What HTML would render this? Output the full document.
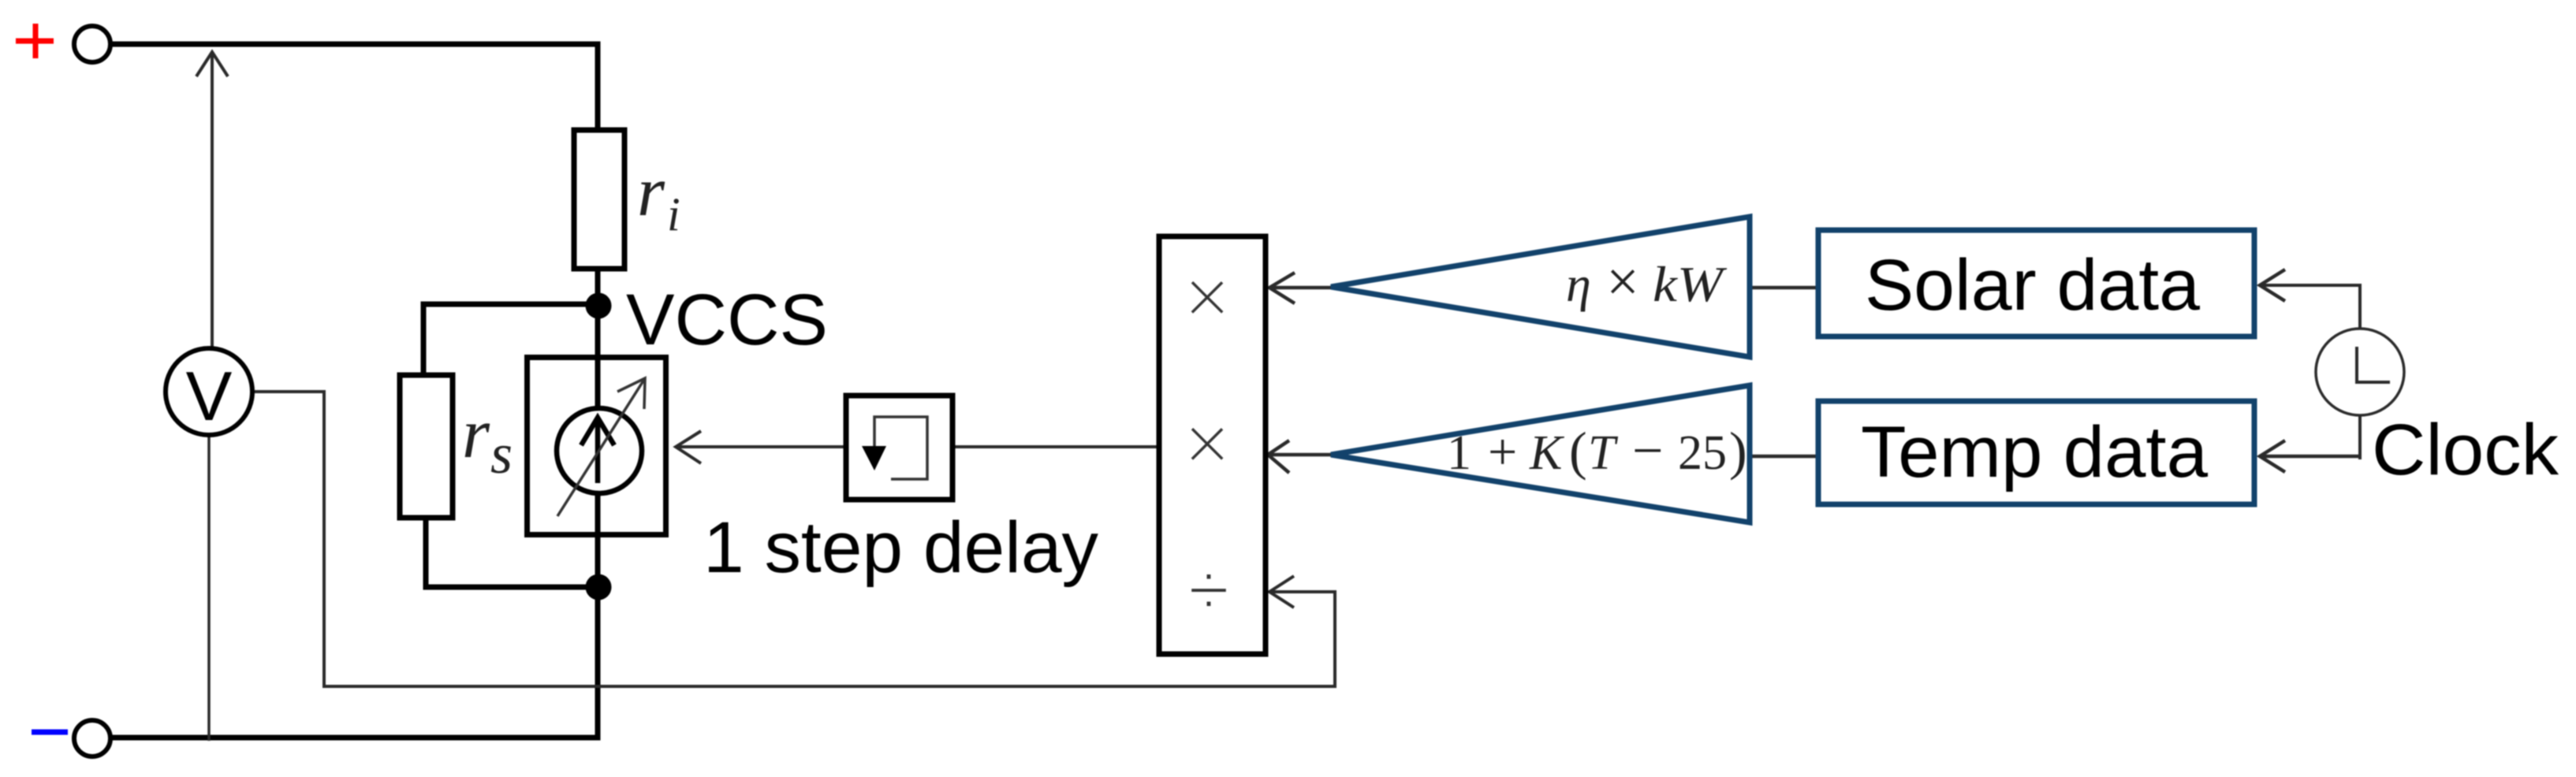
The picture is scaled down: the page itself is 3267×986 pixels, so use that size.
<!DOCTYPE html>
<html><head><meta charset="utf-8"><style>
html,body{margin:0;padding:0;background:#fff;width:3267px;height:986px;overflow:hidden}
svg{display:block;filter:blur(.8px)}
text{font-family:"Liberation Sans",sans-serif;fill:#000}
.m{font-family:"Liberation Serif",serif;font-style:italic;fill:#222}
.u{font-family:"Liberation Serif",serif;font-style:normal}
</style></head><body>
<svg width="3267" height="986" viewBox="0 0 3267 986" xmlns="http://www.w3.org/2000/svg">
<rect width="3267" height="986" fill="#fff"/>
<!-- signs -->
<path d="M20 52H68M45 30V74" stroke="#f00" stroke-width="7" fill="none"/>
<path d="M40 929H86" stroke="#00f" stroke-width="7" fill="none"/>
<!-- main wires -->
<g fill="none" stroke="#000" stroke-width="7">
<path d="M140 56H758V165"/>
<path d="M758 341V516M758 628V936H140"/>
<path d="M758 386H537V476"/>
<path d="M540 657V745H758"/>
<circle cx="117" cy="56" r="23" fill="#fff" stroke-width="6"/>
<circle cx="117" cy="937" r="23" fill="#fff" stroke-width="6"/>
<rect x="728" y="165" width="64" height="176" fill="#fff"/>
<rect x="507" y="476" width="67" height="181" fill="#fff"/>
<rect x="668.5" y="453.5" width="176" height="225"/>
<circle cx="760" cy="572" r="54" stroke-width="6.5"/>
</g>
<circle cx="759" cy="388" r="16.5" fill="#000"/>
<circle cx="759" cy="745" r="16.5" fill="#000"/>
<path d="M758 613V530M737 565L758 530L779 565" fill="none" stroke="#000" stroke-width="6.5"/>
<path d="M707 655L818 480M783 497L818 480L817 519" fill="none" stroke="#333" stroke-width="3.5"/>
<!-- voltmeter and thin connectors -->
<g fill="none" stroke="#2a2a2a" stroke-width="3.5">
<path d="M269 440V66M249 97L269 66L289 97" stroke-width="4"/>
<path d="M265 553V940"/>
<path d="M323 497H411V871H1693V751H1610M1641 731L1610 751L1641 771" stroke-width="4"/>
<path d="M857 567H1073M889 547L857 567L889 588" stroke-width="4"/>
<path d="M1208 567H1468" stroke-width="4"/>
<path d="M1688 365H1610M1642 346L1610 365L1642 385" stroke-width="4.5"/>
<path d="M1688 577H1608M1635 559L1608 577L1635 600" stroke-width="4.5"/>
<path d="M2219 365H2305M2219 579H2305" stroke-width="4.5"/>
<path d="M2866 362H2993V417M2993 527V583" stroke-width="4"/>
<path d="M2866 579H2993M2898 342L2866 362L2898 382M2898 559L2866 579L2898 599" stroke-width="4.5"/>
<ellipse cx="2993" cy="472" rx="56" ry="55" fill="#fff"/>
<path d="M2989 440V485H3031" stroke-width="4"/>
</g>
<circle cx="265" cy="497" r="55" fill="#fff" stroke="#000" stroke-width="6"/>
<text x="265" y="533" font-size="88" text-anchor="middle">V</text>
<!-- delay -->
<rect x="1073" y="502" width="135" height="132" fill="#fff" stroke="#000" stroke-width="7"/>
<path d="M1130 608H1176V529H1109V570" fill="none" stroke="#333" stroke-width="3.5"/>
<path d="M1093 566H1124L1109 597Z" fill="#000"/>
<!-- multiplier -->
<rect x="1470" y="300" width="135" height="530" fill="#fff" stroke="#000" stroke-width="7"/>
<text x="1531" y="412" font-size="104" text-anchor="middle" stroke="#fff" stroke-width="4" style="fill:#333">×</text>
<text x="1531" y="598" font-size="104" text-anchor="middle" stroke="#fff" stroke-width="4" style="fill:#333">×</text>
<text x="1533" y="781" font-size="96" text-anchor="middle" stroke="#fff" stroke-width="3" style="fill:#333">÷</text>
<!-- triangles and data boxes -->
<g fill="#fff" stroke="#12426b" stroke-width="7">
<path d="M1688 364L2219 275V453Z"/>
<path d="M1688 577L2219 489V663Z"/>
<rect x="2306" y="292" width="553" height="135" />
<rect x="2306" y="509" width="553" height="131" />
</g>
<!-- labels -->
<text x="794" y="437" font-size="92" textLength="256" lengthAdjust="spacingAndGlyphs">VCCS</text>
<text x="892" y="726" font-size="92" textLength="501" lengthAdjust="spacingAndGlyphs">1 step delay</text>
<text x="3008" y="602" font-size="92" textLength="237" lengthAdjust="spacingAndGlyphs">Clock</text>
<text x="2365" y="393" font-size="92" textLength="425" lengthAdjust="spacingAndGlyphs">Solar data</text>
<text x="2360" y="605" font-size="92" textLength="440" lengthAdjust="spacingAndGlyphs">Temp data</text>
<text class="m" x="808" y="273" font-size="90">r</text>
<text class="m" x="846" y="292" font-size="60">i</text>
<text class="m" x="586" y="580" font-size="90">r</text>
<text class="m" x="622" y="600" font-size="72">s</text>
<text class="m" x="1986" y="382" font-size="64">η</text>
<text class="u" x="2058" y="382" font-size="74" text-anchor="middle" style="fill:#222">×</text>
<text class="m" x="2096" y="382" font-size="64" textLength="89" lengthAdjust="spacingAndGlyphs">kW</text>
<text class="m" y="595" font-size="62"><tspan class="u" x="1835">1</tspan><tspan class="u" x="1887" font-size="66">+</tspan><tspan x="1940">K</tspan><tspan class="u" x="1990" font-size="68">(</tspan><tspan x="2014">T</tspan><tspan class="u" x="2070" font-size="70">−</tspan><tspan class="u" x="2128">25</tspan><tspan class="u" x="2193" font-size="68">)</tspan></text>
</svg>
</body></html>
